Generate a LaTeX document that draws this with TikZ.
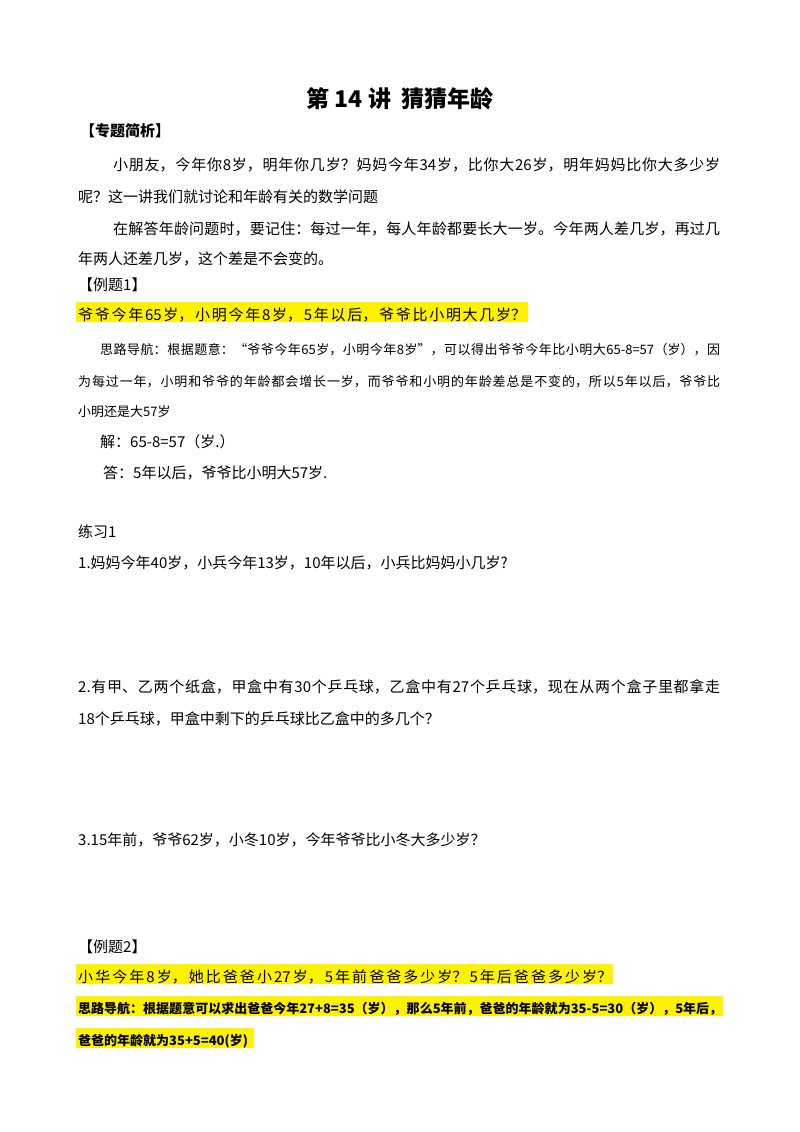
\documentclass[tikz,border=0pt]{standalone}
\usepackage{fontspec}
\setmainfont{Noto Sans CJK SC}
\XeTeXlinebreaklocale "zh"
\XeTeXlinebreakskip=0pt plus 3pt
\newcommand\jl[2]{\parbox[b]{#1pt}{\parfillskip=0pt\relax #2\par}}
\begin{document}
\begin{tikzpicture}[x=1pt,y=-1pt,
  t/.style={anchor=base west,inner sep=0pt,font=\fontsize{15}{18}\selectfont},
  s/.style={anchor=base west,inner sep=0pt,font=\fontsize{13}{16}\selectfont},
  hl/.style={fill=yellow,draw=none}]
\useasboundingbox[fill=white] (0,0) rectangle (800,1132);
\fill[hl] (76,302) rectangle (528,322);
\fill[hl] (76,964) rectangle (613,984);
\fill[hl] (76,996) rectangle (723,1016);
\fill[hl] (76,1028) rectangle (254,1048);
\node[anchor=base,inner sep=0pt,font=\fontsize{23}{26}\bfseries] (title) at (400,107) {第 14 讲\ \ 猜猜年龄};
\node[t,font=\fontsize{15}{18}\bfseries] (h1) at (80,136) {【专题简析】};
\node[t] (p1) at (113,170) {\jl{607}{小朋友，今年你8岁，明年你几岁？妈妈今年34岁，比你大26岁，明年妈妈比你大多少岁}};
\node[t] (p2) at (78,202) {呢？这一讲我们就讨论和年龄有关的数学问题};
\node[t] (p3) at (113,234) {\jl{607}{在解答年龄问题时，要记住：每过一年，每人年龄都要长大一岁。今年两人差几岁，再过几}};
\node[t] (p4) at (78,264) {年两人还差几岁，这个差是不会变的。};
\node[t] (e1) at (78,290) {【例题1】};
\node[t] (q1) at (78,320) {\jl{448}{爷爷今年65岁，小明今年8岁，5年以后，爷爷比小明大几岁？}};
\node[s] (a1) at (100,354) {\jl{620}{思路导航：根据题意：“爷爷今年65岁，小明今年8岁”，可以得出爷爷今年比小明大65-8=57（岁），因}};
\node[s] (a2) at (78,386) {\jl{642}{为每过一年，小明和爷爷的年龄都会增长一岁，而爷爷和小明的年龄差总是不变的，所以5年以后，爷爷比}};
\node[s] (a3) at (78,416) {小明还是大57岁};
\node[t] (a4) at (100,447) {解：65-8=57（岁.）};
\node[t] (a5) at (103,478) {答：5年以后，爷爷比小明大57岁.};
\node[t] (x1) at (78,537) {练习1};
\node[t] (x2) at (78,568) {1.妈妈今年40岁，小兵今年13岁，10年以后，小兵比妈妈小几岁?};
\node[t] (x3) at (78,692) {\jl{642}{2.有甲、乙两个纸盒，甲盒中有30个乒乓球，乙盒中有27个乒乓球，现在从两个盒子里都拿走}};
\node[t] (x4) at (78,724) {18个乒乓球，甲盒中剩下的乒乓球比乙盒中的多几个？};
\node[t] (x5) at (78,845) {3.15年前，爷爷62岁，小冬10岁，今年爷爷比小冬大多少岁？};
\node[t] (e2) at (78,952) {【例题2】};
\node[t] (q2) at (78,982) {\jl{534}{小华今年8岁，她比爸爸小27岁，5年前爸爸多少岁？5年后爸爸多少岁？}};
\node[s,font=\fontsize{13}{16}\bfseries] (b1) at (78,1013) {\jl{644}{思路导航：根据题意可以求出爸爸今年27+8=35（岁），那么5年前，爸爸的年龄就为35-5=30（岁），5年后，}};
\node[s,font=\fontsize{13}{16}\bfseries] (b2) at (78,1045) {爸爸的年龄就为35+5=40(岁)};
\end{tikzpicture}
\end{document}
